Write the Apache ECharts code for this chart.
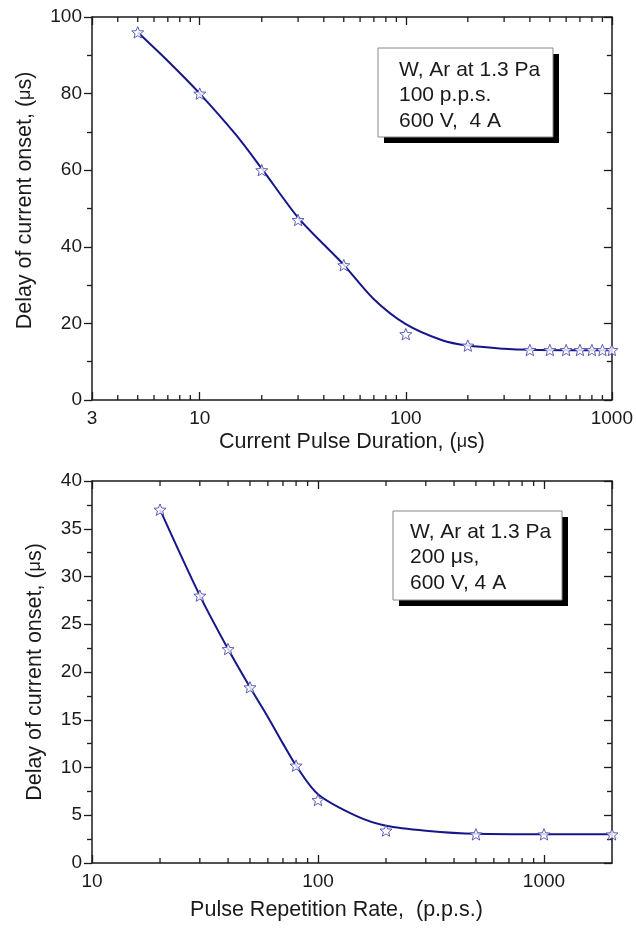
<!DOCTYPE html>
<html>
<head>
<meta charset="utf-8">
<script src="https://cdn.jsdelivr.net/npm/echarts@6/dist/echarts.min.js"></script>
<style>
  html, body { margin: 0; padding: 0; background: #fff; }
  #chart { width: 636px; height: 932px; }
</style>
</head>
<body>
<div id="chart"></div>
<script>
  // top panel: delay vs current pulse duration (us)
  var durMeasX = [5, 10, 20, 30, 50, 100, 200, 400, 500, 600, 700, 800, 900, 1000];
  var durMeasY = [96, 80, 60, 47, 35.2, 17.2, 14.2, 13.05, 13.05, 13.05, 13.05, 13.05, 13.05, 13.05];
  var durFitX = [5, 7, 10, 15, 20, 30, 40, 50, 70, 100, 150, 200, 300, 400, 600, 1000];
  var durFitY = [96, 88.5, 80, 69.2, 60.4, 47.6, 40.6, 35.3, 26.3, 19.8, 15.6, 14.2, 13.4, 13.1, 13, 13];

  // bottom panel: delay vs pulse repetition rate (p.p.s.)
  var rateMeasX = [20, 30, 40, 50, 80, 100, 200, 500, 1000, 2000];
  var rateMeasY = [37, 28, 22.4, 18.4, 10.2, 6.6, 3.4, 3, 3, 3];
  var rateFitX = [20, 30, 40, 50, 60, 70, 80, 100, 150, 200, 300, 500, 1000, 2000];
  var rateFitY = [37, 28, 22.4, 18.4, 15.3, 12.5, 10.2, 7.2, 4.85, 3.9, 3.38, 3.05, 3.0, 3.0];

  // log axis minor tick values
  var durMinorTicks = [4, 5, 6, 7, 8, 9, 20, 30, 40, 50, 60, 70, 80, 90, 200, 300, 400, 500, 600, 700, 800, 900];
  var rateMinorTicks = [20, 30, 40, 50, 60, 70, 80, 90, 200, 300, 400, 500, 600, 700, 800, 900];

  var FONT = '"Liberation Sans", Arial, sans-serif';
  var INK = '#1a1a1a';
  var LINE = '#16168a';
  var STAR_EDGE = '#3a3aa8';
  var STAR = 'path://M50 0 L62.9 32.2 L97.6 34.5 L70.9 56.8 L79.4 90.5 L50 72 L20.6 90.5 L29.1 56.8 L2.4 34.5 L37.1 32.2 Z';

  function zip(xs, ys) {
    return xs.map(function (x, i) { return [x, ys[i]]; });
  }

  var myChart = echarts.init(document.getElementById('chart'), null, { renderer: 'canvas' });

  function nameStyle(pad) {
    return {
      fontFamily: FONT, fontSize: 21.5, color: INK, padding: pad,
      rich: { mu: { fontFamily: FONT, fontSize: 18, color: INK } }
    };
  }

  function xMain(gi, min, max, name, gap, pad) {
    return {
      type: 'log', logBase: 10, gridIndex: gi, min: min, max: max, position: 'bottom',
      name: name, nameLocation: 'middle', nameGap: gap,
      nameTextStyle: nameStyle(pad),
      axisLine: { show: true, onZero: false, lineStyle: { color: INK, width: 1.5 } },
      axisTick: { show: true, inside: true, length: 8, lineStyle: { color: INK, width: 1.3 } },
      axisLabel: {
        fontFamily: FONT, fontSize: 19, color: INK, margin: 9, showMaxLabel: gi === 0,
        formatter: function (v) { return String(v); }
      },
      splitLine: { show: false }
    };
  }
  function xMirror(gi, min, max) {
    return {
      type: 'log', logBase: 10, gridIndex: gi, min: min, max: max, position: 'top',
      axisLine: { show: true, onZero: false, lineStyle: { color: INK, width: 1.5 } },
      axisTick: { show: true, inside: true, length: 8, lineStyle: { color: INK, width: 1.3 } },
      axisLabel: { show: false },
      splitLine: { show: false }
    };
  }
  function yMain(gi, max, interval, gap, pad) {
    return {
      type: 'value', gridIndex: gi, min: 0, max: max, interval: interval, position: 'left',
      name: 'Delay of current onset, ({mu|\u03bc}s)', nameLocation: 'middle', nameGap: gap,
      nameTextStyle: nameStyle(pad),
      axisLine: { show: true, onZero: false, lineStyle: { color: INK, width: 1.5 } },
      axisTick: { show: true, inside: false, length: 8, lineStyle: { color: INK, width: 1.3 } },
      minorTick: { show: true, splitNumber: 2, length: 5, lineStyle: { color: INK, width: 1.3 } },
      axisLabel: { fontFamily: FONT, fontSize: 19, color: INK, margin: 10 },
      splitLine: { show: false }
    };
  }
  function yMirror(gi, max, interval) {
    return {
      type: 'value', gridIndex: gi, min: 0, max: max, interval: interval, position: 'right',
      axisLine: { show: true, onZero: false, lineStyle: { color: INK, width: 1.5 } },
      axisTick: { show: true, inside: true, length: 8, lineStyle: { color: INK, width: 1.3 } },
      minorTick: { show: true, splitNumber: 2, length: 5, lineStyle: { color: INK, width: 1.3 } },
      axisLabel: { show: false },
      splitLine: { show: false }
    };
  }

  function minorTickSeries(xi, yi, ticks, yMin, yMax) {
    return {
      type: 'custom', xAxisIndex: xi, yAxisIndex: yi, silent: true, z: 5,
      data: ticks.map(function (v) { return [v, yMin]; }),
      renderItem: function (params, api) {
        var p0 = api.coord([api.value(0), yMin]);
        var p1 = api.coord([api.value(0), yMax]);
        var st = { stroke: INK, lineWidth: 1.3 };
        return {
          type: 'group',
          children: [
            { type: 'line', shape: { x1: p0[0], y1: p0[1], x2: p0[0], y2: p0[1] - 5 }, style: st },
            { type: 'line', shape: { x1: p1[0], y1: p1[1], x2: p1[0], y2: p1[1] + 5 }, style: st }
          ]
        };
      }
    };
  }

  function fitSeries(xi, yi, data) {
    return {
      type: 'line', xAxisIndex: xi, yAxisIndex: yi, data: data,
      smooth: 0.3, showSymbol: false, z: 3,
      lineStyle: { color: LINE, width: 2 }
    };
  }
  function measSeries(xi, yi, data) {
    return {
      type: 'scatter', xAxisIndex: xi, yAxisIndex: yi, data: data,
      symbol: STAR, symbolSize: 12, symbolKeepAspect: true, z: 4,
      itemStyle: { color: '#ffffff', borderColor: STAR_EDGE, borderWidth: 1 }
    };
  }

  function legendBox(x, y, w, h, lines, tx, ty, lh) {
    var children = [
      { type: 'rect', shape: { x: x + 6, y: y + 6, width: w, height: h }, style: { fill: '#000' } },
      { type: 'rect', shape: { x: x, y: y, width: w, height: h }, style: { fill: '#fff', stroke: '#888', lineWidth: 1 } }
    ];
    lines.forEach(function (t, i) {
      children.push({
        type: 'text', x: tx, y: ty + i * lh,
        style: { text: t, font: '21px ' + FONT, fill: INK, textVerticalAlign: 'middle' }
      });
    });
    return { type: 'group', children: children };
  }

  var option = {
    animation: false,
    backgroundColor: '#ffffff',
    grid: [
      { left: 92, top: 17, width: 520, height: 383 },
      { left: 92, top: 481, width: 520, height: 382 }
    ],
    xAxis: [
      xMain(0, 3, 1000, 'Current Pulse Duration, ({mu|\u03bc}s)', 31, [0, 0, 0, 0]),
      xMirror(0, 3, 1000),
      xMain(1, 10, 2000, 'Pulse Repetition Rate,  (p.p.s.)', 36, [0, 31, 0, 0]),
      xMirror(1, 10, 2000)
    ],
    yAxis: [
      yMain(0, 100, 20, 56, [0, 0, 0, 16]),
      yMirror(0, 100, 20),
      yMain(1, 40, 5, 46, [0, 0, 0, 0]),
      yMirror(1, 40, 5)
    ],
    series: [
      fitSeries(0, 0, zip(durFitX, durFitY)),
      measSeries(0, 0, zip(durMeasX, durMeasY)),
      minorTickSeries(0, 0, durMinorTicks, 0, 100),
      fitSeries(2, 2, zip(rateFitX, rateFitY)),
      measSeries(2, 2, zip(rateMeasX, rateMeasY)),
      minorTickSeries(2, 2, rateMinorTicks, 0, 40)
    ],
    graphic: [
      legendBox(378, 48, 175, 89, ['W, Ar at 1.3 Pa', '100 p.p.s.', '600 V,  4 A'], 399, 70, 25.5),
      legendBox(393, 511, 169, 89, ['W, Ar at 1.3 Pa', '200 \u03bcs,', '600 V, 4 A'], 410, 532, 25.5)
    ]
  };

  myChart.setOption(option);
</script>
</body>
</html>
